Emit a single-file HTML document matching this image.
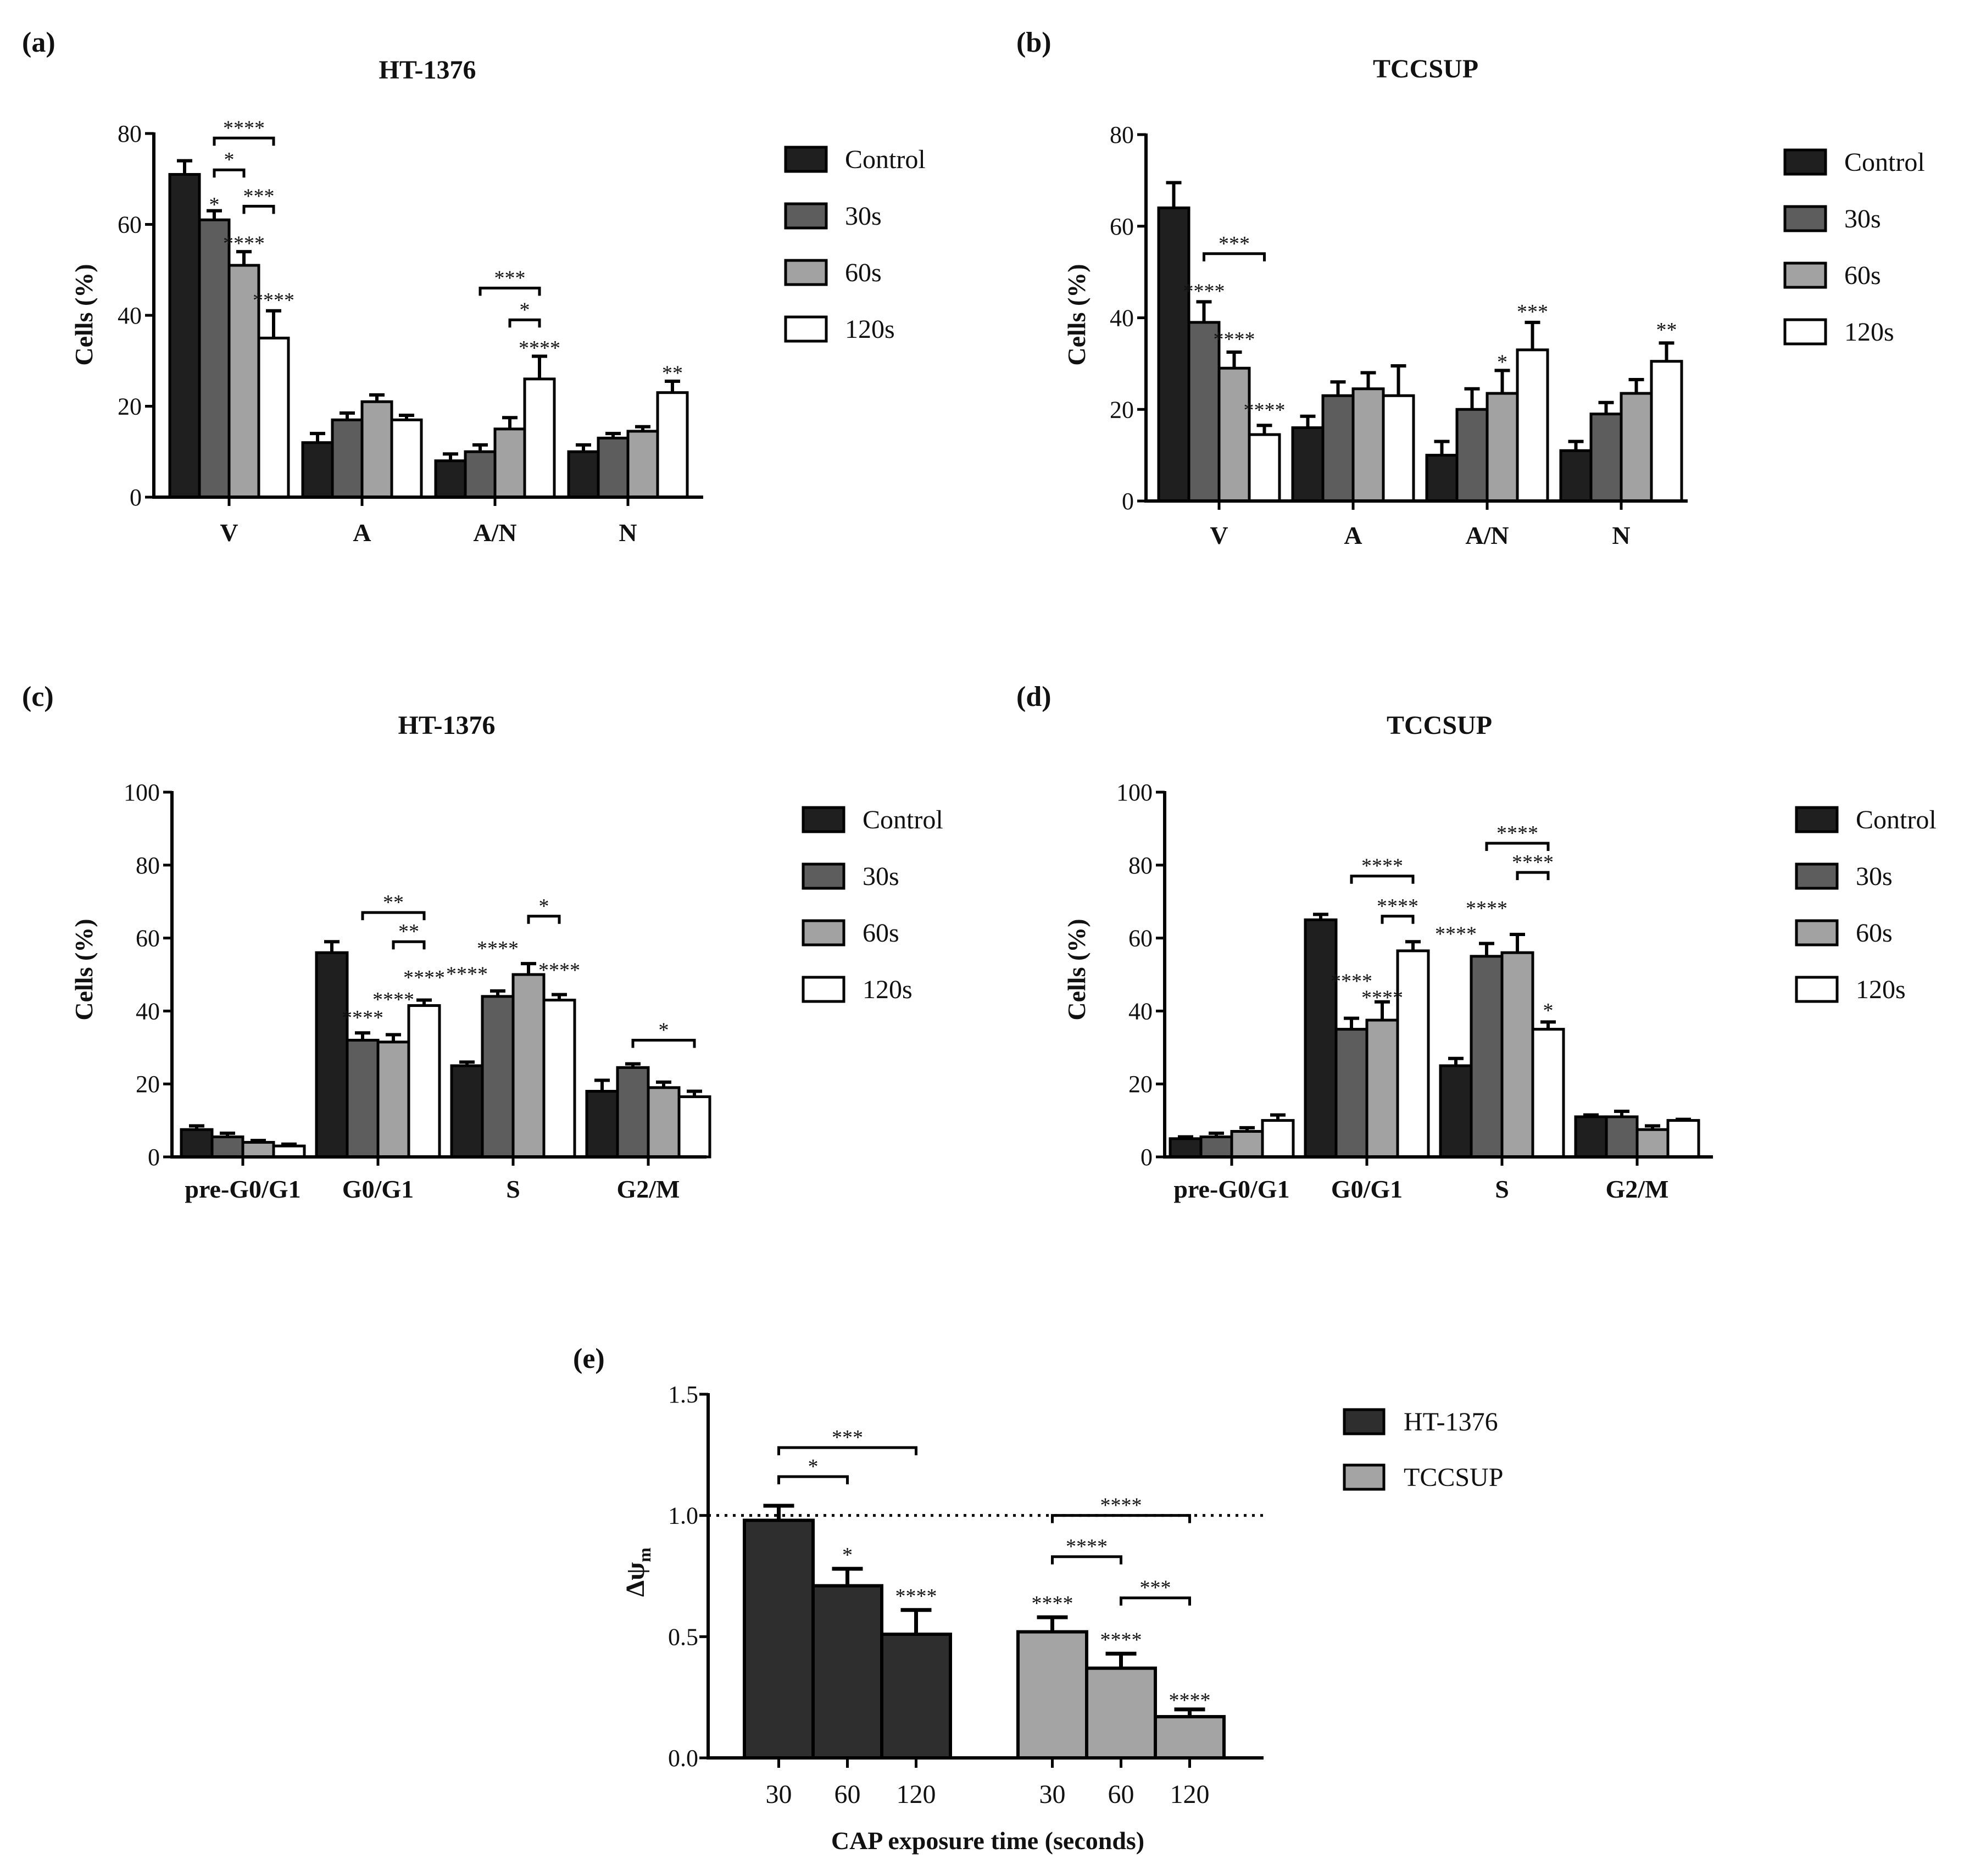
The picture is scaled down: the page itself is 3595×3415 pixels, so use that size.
<!DOCTYPE html>
<html><head><meta charset="utf-8"><style>
html,body{margin:0;padding:0;background:#fff}
svg{display:block}
text{font-family:"Liberation Serif",serif;fill:#111}
</style></head><body>
<svg id="fig" width="3595" height="3415" viewBox="0 0 3595 3415" xmlns="http://www.w3.org/2000/svg"></svg>
<script>
// ---------- DATA ----------
const catsAB = ["V","A","A/N","N"];
const catsCD = ["pre-G0/G1","G0/G1","S","G2/M"];
const seriesNames = ["Control","30s","60s","120s"];
const aMean = [[71,61,51,35],[12,17,21,17],[8,10,15,26],[10,13,14.5,23]];
const aErr  = [[3,2,3,6],[2,1.5,1.5,1],[1.5,1.5,2.5,5],[1.5,1,1,2.5]];
const bMean = [[64,39,29,14.5],[16,23,24.5,23],[10,20,23.5,33],[11,19,23.5,30.5]];
const bErr  = [[5.5,4.5,3.5,2],[2.5,3,3.5,6.5],[3,4.5,5,6],[2,2.5,3,4]];
const cMean = [[7.5,5.5,4,3],[56,32,31.5,41.5],[25,44,50,43],[18,24.5,19,16.5]];
const cErr  = [[1,1,0.5,0.5],[3,2,2,1.5],[1,1.5,3,1.5],[3,1,1.5,1.5]];
const dMean = [[5,5.5,7,10],[65,35,37.5,56.5],[25,55,56,35],[11,11,7.5,10]];
const dErr  = [[0.5,1,1,1.5],[1.5,3,5,2.5],[2,3.5,5,2],[0.5,1.5,1,0.3]];
const eCats = ["30","60","120"];
const eHT = [0.98,0.71,0.51];
const eHTerr = [0.06,0.07,0.1];
const eTC = [0.52,0.37,0.17];
const eTCerr = [0.06,0.06,0.03];
const ticksAB = [0,20,40,60,80];
const ticksCD = [0,20,40,60,80,100];
const ticksE = [0,0.5,1.0,1.5];
// significance: [group, bar, label, value]
const aStars = [[0,1,"*",65],[0,2,"****",56.5],[0,3,"****",44],[2,3,"****",33.5],[3,3,"**",28]];
const aBrackets = [[0,1,3,79,"****"],[0,1,2,72,"*"],[0,2,3,64,"***"],[2,1,3,46,"***"],[2,2,3,39,"*"]];
const bStars = [[0,1,"****",46.5],[0,2,"****",36],[0,3,"****",20.5],[2,2,"*",31],[2,3,"***",42],[3,3,"**",38]];
const bBrackets = [[0,1,3,54,"***"]];
const cStars = [[1,1,"****",39],[1,2,"****",44],[1,3,"****",50],[2,0,"****",51],[2,1,"****",58],[2,3,"****",52]];
const cBrackets = [[1,1,3,67,"**"],[1,2,3,59,"**"],[2,2,3,66,"*"],[3,1,3,32,"*"]];
const dStars = [[1,1,"****",49],[1,2,"****",44.5],[2,0,"****",62],[2,1,"****",69],[2,3,"*",41]];
const dBrackets = [[1,1,3,77,"****"],[1,2,3,66,"****"],[2,1,3,86,"****"],[2,2,3,78,"****"]];
const eStars = [[0,1,"*",0.85],[0,2,"****",0.68],[1,0,"****",0.65],[1,1,"****",0.5],[1,2,"****",0.25]];
const eBrackets = [[0,0,1,1.16,"*"],[0,0,2,1.28,"***"],[1,0,1,0.83,"****"],[1,1,2,0.66,"***"],[1,0,2,1.0,"****"]];
// ---------- DRAW ----------
const NS="http://www.w3.org/2000/svg";
const svg=document.getElementById('fig');
function el(tag,attrs,parent,txt){const e=document.createElementNS(NS,tag);for(const k in attrs)e.setAttribute(k,attrs[k]);if(txt!==undefined)e.textContent=txt;(parent||svg).appendChild(e);return e;}
const fills=["#1f1f1f","#5d5d5d","#a2a2a2","#ffffff"];

function bracket(g,x1,x2,y,label,fs){
  const p=el('path',{d:`M${x1},${y+14} V${y} H${x2} V${y+14}`,fill:'none',stroke:'#000','stroke-width':5},g);
  
  
  const t=el('text',{x:(x1+x2)/2,y:y-6,'text-anchor':'middle','font-size':fs},g,label);
  
  
}

function panel(o){
  const g=el('g',{});
  
  
  const ys=v=>o.y0-(v/o.ymax)*(o.y0-o.ytop);
  const bx=(gi,bi)=>o.c0+gi*o.sp-2*o.bw+bi*o.bw;
  o.mean.forEach((grp,gi)=>grp.forEach((v,bi)=>{
    const x=bx(gi,bi), y=ys(v), ey=ys(v+o.err[gi][bi]);
    const eb=el('path',{d:`M${x+o.bw/2},${y} V${ey} M${x+o.bw/2-14},${ey} H${x+o.bw/2+14}`,stroke:'#000','stroke-width':6,fill:'none'},g);
    
    
    const r=el('rect',{x:x,y:y,width:o.bw,height:o.y0-y,fill:fills[bi],stroke:'#000','stroke-width':5},g);
    
    
  }));
  const ax=el('path',{d:`M${o.x0},${o.ytop-2} V${o.y0} H${o.x1}`,fill:'none',stroke:'#000','stroke-width':6},g);
  
  
  o.ticks.forEach(t=>{
    const y=ys(t);
    el('line',{x1:o.x0-16,x2:o.x0,y1:y,y2:y,stroke:'#000','stroke-width':5},g);
    const tl=el('text',{x:o.x0-22,y:y+15,'text-anchor':'end','font-size':44},g,String(t));
    
    
  });
  o.cats.forEach((c,gi)=>{
    const x=o.c0+gi*o.sp;
    el('line',{x1:x,x2:x,y1:o.y0,y2:o.y0+16,stroke:'#000','stroke-width':5},g);
    const tl=el('text',{x:x,y:o.catY,'text-anchor':'middle','font-size':46,'font-weight':'bold'},g,c);
    
    
  });
  o.stars.forEach(s=>{
    const t=el('text',{x:bx(s[0],s[1])+o.bw/2,y:ys(s[3])+18,'text-anchor':'middle','font-size':38},g,s[2]);
    
    
  });
  o.brackets.forEach(b=>bracket(g,bx(b[0],b[1])+o.bw/2,bx(b[0],b[2])+o.bw/2,ys(b[3]),b[4],38));
  const yt=el('text',{x:o.ytX,y:o.ytY,'text-anchor':'middle','font-size':46,'font-weight':'bold',transform:`rotate(-90 ${o.ytX} ${o.ytY})`},g,'Cells (%)');
  
  
  const ti=el('text',{x:o.titleX,y:o.titleY,'text-anchor':'middle','font-size':48,'font-weight':'bold'},g,o.title);
  
  
  const pl=el('text',{x:o.lblX,y:o.lblY,'font-size':52,'font-weight':'bold'},g,o.lbl);
  
  
  seriesNames.forEach((n,i)=>{
    const y=o.legY+i*103;
    const lr=el('rect',{x:o.legX,y:y-22,width:74,height:44,fill:fills[i],stroke:'#000','stroke-width':5},g);
    
    
    const lt=el('text',{x:o.legX+108,y:y+16,'font-size':48},g,n);
    
    
  });
}

panel({name:'panel-a',mean:aMean,err:aErr,cats:catsAB,ticks:ticksAB,ymax:80,x0:280,x1:1280,y0:905,ytop:243,c0:417,sp:242,bw:54,catY:985,stars:aStars,brackets:aBrackets,ytX:168,ytY:573,title:'HT-1376',titleX:778,titleY:143,lbl:'(a)',lblX:40,lblY:94,legX:1430,legY:290});
panel({name:'panel-b',mean:bMean,err:bErr,cats:catsAB,ticks:ticksAB,ymax:80,x0:2086,x1:3072,y0:912,ytop:245,c0:2219,sp:244,bw:55,catY:990,stars:bStars,brackets:bBrackets,ytX:1975,ytY:573,title:'TCCSUP',titleX:2595,titleY:141,lbl:'(b)',lblX:1850,lblY:94,legX:3249,legY:295});
panel({name:'panel-c',mean:cMean,err:cErr,cats:catsCD,ticks:ticksCD,ymax:100,x0:313,x1:1286,y0:2106,ytop:1442,c0:442,sp:246,bw:56,catY:2180,stars:cStars,brackets:cBrackets,ytX:168,ytY:1765,title:'HT-1376',titleX:813,titleY:1336,lbl:'(c)',lblX:40,lblY:1285,legX:1462,legY:1492});
panel({name:'panel-d',mean:dMean,err:dErr,cats:catsCD,ticks:ticksCD,ymax:100,x0:2120,x1:3118,y0:2106,ytop:1442,c0:2242,sp:246,bw:56,catY:2180,stars:dStars,brackets:dBrackets,ytX:1975,ytY:1765,title:'TCCSUP',titleX:2620,titleY:1336,lbl:'(d)',lblX:1850,lblY:1285,legX:3270,legY:1492});

// panel e
(function(){
  const g=el('g',{});
  
  
  const x0=1289,x1=2300,y0=3200,ytop=2538,ymax=1.5,bw=125;
  const ys=v=>y0-(v/ymax)*(y0-ytop);
  const starts=[1355,1853];
  const grpFill=["#2e2e2e","#a4a4a4"];
  const bx=(gi,bi)=>starts[gi]+bi*bw;
  const dl=el('line',{x1:x0,x2:x1,y1:ys(1),y2:ys(1),stroke:'#000','stroke-width':5,'stroke-dasharray':'5 10'},g);
  
  
  [[eHT,eHTerr],[eTC,eTCerr]].forEach((s,gi)=>s[0].forEach((v,bi)=>{
    const x=bx(gi,bi),y=ys(v),ey=ys(v+s[1][bi]);
    const eb=el('path',{d:`M${x+bw/2},${y} V${ey} M${x+bw/2-28},${ey} H${x+bw/2+28}`,stroke:'#000','stroke-width':7,fill:'none'},g);
    
    
    const r=el('rect',{x:x,y:y,width:bw,height:y0-y,fill:grpFill[gi],stroke:'#000','stroke-width':6},g);
    
    
    el('line',{x1:x+bw/2,x2:x+bw/2,y1:y0,y2:y0+18,stroke:'#000','stroke-width':5},g);
    const tl=el('text',{x:x+bw/2,y:3282,'text-anchor':'middle','font-size':48},g,eCats[bi]);
    
    
  }));
  const ax=el('path',{d:`M${x0},${ytop-2} V${y0} H${x1}`,fill:'none',stroke:'#000','stroke-width':6},g);
  
  
  ticksE.forEach(t=>{
    const y=ys(t);
    el('line',{x1:x0-16,x2:x0,y1:y,y2:y,stroke:'#000','stroke-width':5},g);
    const tl=el('text',{x:x0-18,y:y+15,'text-anchor':'end','font-size':44},g,t.toFixed(1));
    
    
  });
  eStars.forEach(s=>{
    const t=el('text',{x:bx(s[0],s[1])+bw/2,y:ys(s[3])+18,'text-anchor':'middle','font-size':38},g,s[2]);
    
    
  });
  eBrackets.forEach(b=>bracket(g,bx(b[0],b[1])+bw/2,bx(b[0],b[2])+bw/2,ys(b[3]),b[4],38));
  const yt=el('text',{x:1172,y:2862,'text-anchor':'middle','font-size':48,'font-weight':'bold',transform:'rotate(-90 1172 2862)'},g,'Δψ');
  
  
  el('tspan',{'font-size':32,dy:12},yt,'m');
  const xt=el('text',{x:1798,y:3366,'text-anchor':'middle','font-size':46,'font-weight':'bold'},g,'CAP exposure time (seconds)');
  
  
  const pl=el('text',{x:1043,y:2490,'font-size':52,'font-weight':'bold'},g,'(e)');
  
  
  ["HT-1376","TCCSUP"].forEach((n,i)=>{
    const y=2588+i*101;
    const lr=el('rect',{x:2447,y:y-22,width:72,height:44,fill:grpFill[i],stroke:'#000','stroke-width':5},g);
    
    
    const lt=el('text',{x:2555,y:y+16,'font-size':48},g,n);
    
    
  });
})();
</script>
</body></html>
